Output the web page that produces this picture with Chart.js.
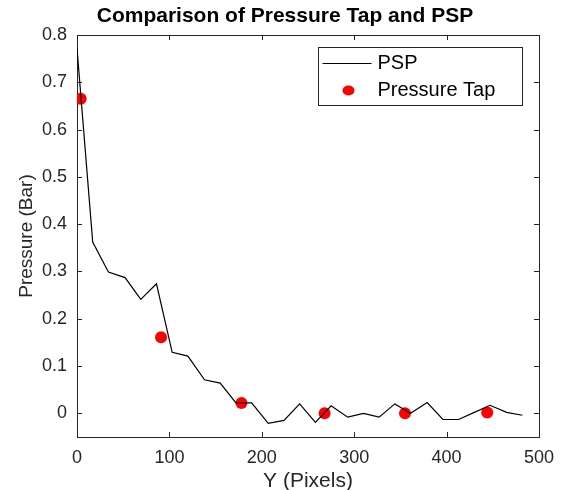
<!DOCTYPE html>
<html>
<head>
<meta charset="utf-8">
<script src="https://cdn.jsdelivr.net/npm/chart.js@4.4.0/dist/chart.umd.min.js"></script>
<style>
  html, body { margin: 0; padding: 0; background: #fff; }
  #wrap { width: 564px; height: 490px; }
</style>
</head>
<body>
<div id="wrap"><canvas id="c"></canvas></div>
<script>
// PSP trace
const pspX = [0, 17, 34, 52, 69, 86, 103, 120, 138, 155, 172, 189, 207, 224, 241, 258, 275, 293, 310, 327, 344, 361, 379, 396, 413, 430, 447, 465, 482];
const pspY = [0.772, 0.362, 0.299, 0.287, 0.241, 0.274, 0.129, 0.121, 0.071, 0.064, 0.022, 0.022, -0.021, -0.015, 0.020, -0.019, 0.016, -0.008, 0.000, -0.008, 0.020, 0.000, 0.023, -0.013, -0.013, 0.002, 0.017, 0.002, -0.004];

// pressure tap readings
const tapX = [4, 91, 178, 268, 355, 444];
const tapY = [0.665, 0.161, 0.022, 0.000, 0.000, 0.002];

const xTicks = [0, 100, 200, 300, 400, 500];
const yTicks = [0, 0.1, 0.2, 0.3, 0.4, 0.5, 0.6, 0.7, 0.8];

const TITLE = 'Comparison of Pressure Tap and PSP';
const FONT = "'Liberation Sans', Arial, sans-serif";
const AXIS = '#262626';

const toPts = (xs, ys) => xs.map((x, i) => ({ x: x, y: ys[i] }));

// matlab-ish box with ticks pointing inwards, on all four sides
const boxTicks = {
    id: 'boxTicks',
    beforeDatasetsDraw(chart) {
        const { ctx, chartArea: a, scales } = chart;
        const len = 5;
        ctx.save();
        ctx.strokeStyle = AXIS;
        ctx.lineWidth = 1;
        ctx.beginPath();
        scales.x.ticks.forEach(t => {
            const px = Math.round(scales.x.getPixelForValue(t.value)) + 0.5;
            ctx.moveTo(px, a.bottom); ctx.lineTo(px, a.bottom - len);
            ctx.moveTo(px, a.top);    ctx.lineTo(px, a.top + len);
        });
        scales.y.ticks.forEach(t => {
            const py = Math.round(scales.y.getPixelForValue(t.value)) + 0.5;
            ctx.moveTo(a.left, py);  ctx.lineTo(a.left + len, py);
            ctx.moveTo(a.right, py); ctx.lineTo(a.right - len, py);
        });
        ctx.stroke();
        ctx.strokeRect(Math.round(a.left) + 0.5, Math.round(a.top) + 0.5,
                       Math.round(a.right - a.left), Math.round(a.bottom - a.top));
        ctx.restore();
    }
};

// title sits a bit right of the canvas centre in the original
const topTitle = {
    id: 'topTitle',
    afterDraw(chart) {
        const ctx = chart.ctx;
        ctx.save();
        ctx.fillStyle = '#000';
        ctx.font = 'bold 21px ' + FONT;
        ctx.textAlign = 'center';
        ctx.textBaseline = 'middle';
        ctx.fillText(TITLE, chart.width / 2 + 3, 16);
        ctx.restore();
    }
};

// legend box inside the axes, top right
const insideLegend = {
    id: 'insideLegend',
    afterDraw(chart) {
        const { ctx, chartArea: a } = chart;
        const ds = chart.data.datasets;
        const w = 204, h = 58;
        const x0 = Math.round(a.right - 17 - w) + 0.5, y0 = Math.round(a.top + 12) + 0.5;
        ctx.save();
        ctx.fillStyle = '#fff';
        ctx.fillRect(x0, y0, w, h);
        ctx.strokeStyle = AXIS;
        ctx.lineWidth = 1;
        ctx.strokeRect(x0, y0, w, h);

        const row1 = y0 + 16, row2 = y0 + 43;
        ctx.strokeStyle = ds[0].borderColor;
        ctx.lineWidth = ds[0].borderWidth;
        ctx.beginPath();
        ctx.moveTo(x0 + 4, row1); ctx.lineTo(x0 + 53, row1);
        ctx.stroke();

        ctx.fillStyle = ds[1].backgroundColor;
        ctx.beginPath();
        ctx.ellipse(x0 + 30, row2, 6, 5, 0, 0, Math.PI * 2);
        ctx.fill();

        ctx.fillStyle = '#000';
        ctx.font = '20px ' + FONT;
        ctx.textBaseline = 'middle';
        ctx.fillText(ds[0].label, x0 + 59, row1);
        ctx.fillText(ds[1].label, x0 + 59, row2);
        ctx.restore();
    }
};

new Chart(document.getElementById('c'), {
    type: 'scatter',
    data: {
        datasets: [
            { label: 'PSP', data: toPts(pspX, pspY), showLine: true,
              borderColor: '#000', borderWidth: 1.2, pointRadius: 0, tension: 0 },
            { label: 'Pressure Tap', data: toPts(tapX, tapY), showLine: false,
              backgroundColor: '#ff0000', borderWidth: 0, pointRadius: 6 }
        ]
    },
    options: {
        responsive: true,
        maintainAspectRatio: false,
        animation: false,
        layout: { padding: { top: 35, right: 24, bottom: 0, left: 0 } },
        plugins: {
            legend: { display: false },
            tooltip: { enabled: false },
            title: { display: false }
        },
        scales: {
            x: {
                type: 'linear', min: 0, max: 500,
                afterBuildTicks: s => { s.ticks = xTicks.map(v => ({ value: v })); },
                afterFit: s => { s.height = 53; },
                ticks: { color: AXIS, font: { family: FONT, size: 18 }, padding: 10, maxRotation: 0 },
                grid: { display: false, drawTicks: false },
                border: { display: false },
                title: { display: true, text: 'Y (Pixels)', color: AXIS,
                         font: { family: FONT, size: 21 }, padding: { top: 0, bottom: -4 } }
            },
            y: {
                type: 'linear', min: -0.05, max: 0.8,
                afterBuildTicks: s => { s.ticks = yTicks.map(v => ({ value: v })); },
                afterFit: s => { s.width = 77; },
                ticks: { color: AXIS, font: { family: FONT, size: 18 }, padding: 10,
                         callback: v => v === 0 ? '0' : v.toFixed(1) },
                grid: { display: false, drawTicks: false },
                border: { display: false },
                title: { display: true, text: 'Pressure (Bar)', color: AXIS,
                         font: { family: FONT, size: 19 }, padding: { top: 15, bottom: 0 } }
            }
        }
    },
    plugins: [boxTicks, topTitle, insideLegend]
});
</script>
</body>
</html>
